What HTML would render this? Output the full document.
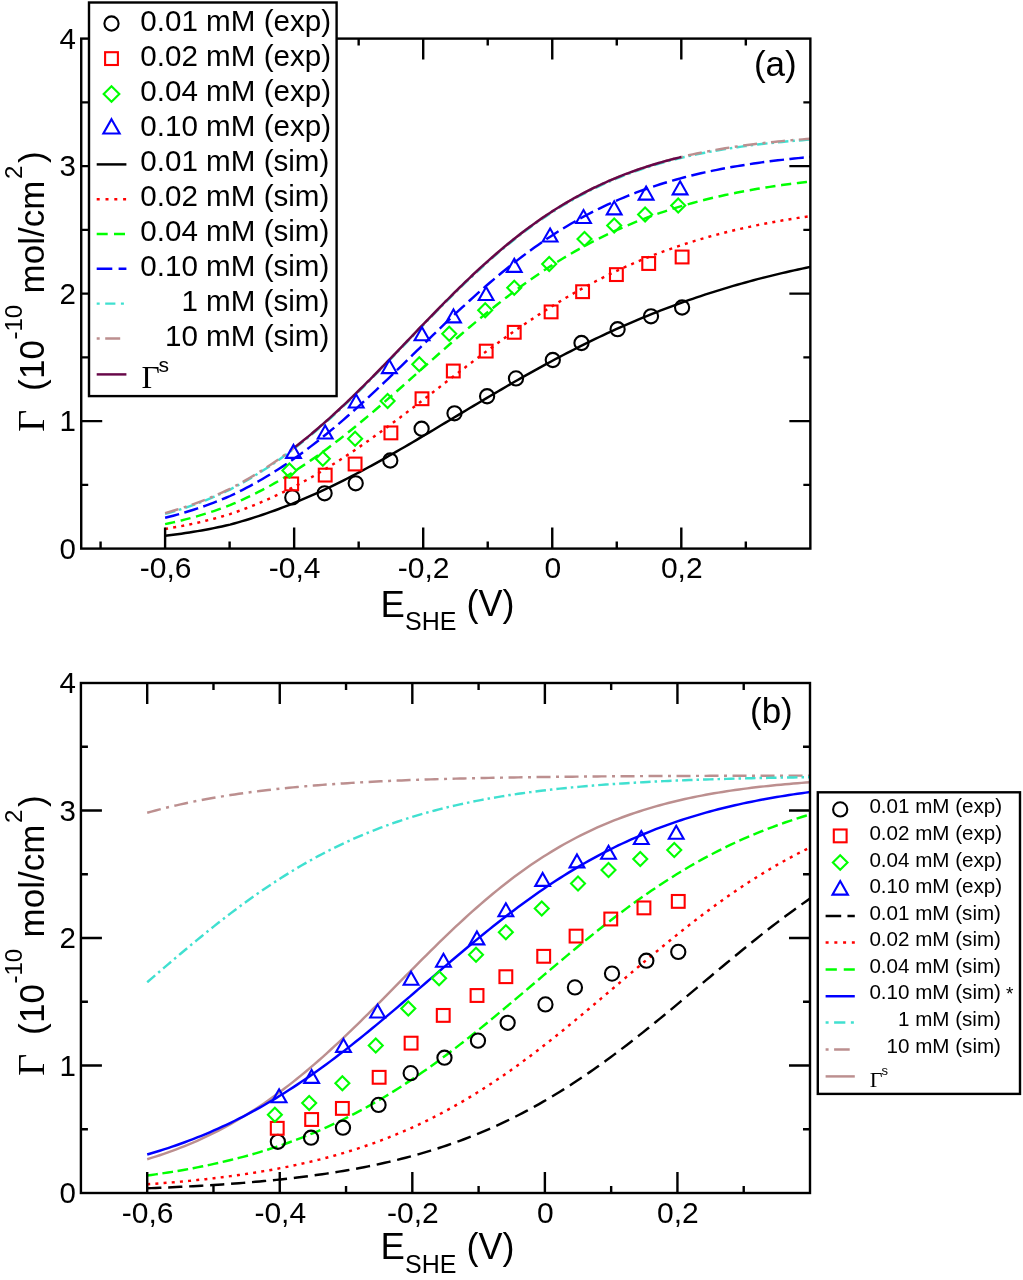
<!DOCTYPE html>
<html><head><meta charset="utf-8"><style>
html,body{margin:0;padding:0;background:#fff;width:1023px;height:1280px;overflow:hidden}
svg{display:block;will-change:transform}
</style></head><body>
<svg width="1023" height="1280" viewBox="0 0 1023 1280" font-family='"Liberation Sans", sans-serif'>
<rect width="1023" height="1280" fill="#fff"/>
<g fill="none">
<path d="M165.10,513.13 L169.16,511.98 L173.22,510.78 L177.27,509.54 L181.33,508.26 L185.39,506.92 L189.45,505.54 L193.51,504.11 L197.57,502.62 L201.62,501.09 L205.68,499.50 L209.74,497.85 L213.80,496.15 L217.86,494.39 L221.91,492.58 L225.97,490.71 L230.03,488.76 L234.09,486.64 L238.15,484.46 L242.21,482.21 L246.26,479.90 L250.32,477.53 L254.38,475.09 L258.44,472.59 L262.50,470.02 L266.55,467.39 L270.61,464.69 L274.67,461.93 L278.73,459.09 L282.79,456.20 L286.85,453.23 L290.90,450.20 L294.96,447.11 L299.02,443.95 L303.08,440.72 L307.14,437.43 L311.19,434.08 L315.25,430.67 L319.31,427.19 L323.37,423.66 L327.43,420.07 L331.49,416.42 L335.54,412.72 L339.60,408.97 L343.66,405.17 L347.72,401.31 L351.78,397.42 L355.83,393.47 L359.89,389.49 L363.95,385.47 L368.01,381.42 L372.07,377.33 L376.13,373.21 L380.18,369.07 L384.24,364.90 L388.30,360.72 L392.36,356.51 L396.42,352.30 L400.47,348.07 L404.53,343.84 L408.59,339.61 L412.65,335.37 L416.71,331.14 L420.77,326.92 L424.82,322.71 L428.88,318.52 L432.94,314.34 L437.00,310.18 L441.06,306.05 L445.11,301.94 L449.17,297.87 L453.23,293.83 L457.29,289.82 L461.35,285.86 L465.41,281.93 L469.46,278.05 L473.52,274.22 L477.58,270.44 L481.64,266.71 L485.70,263.03 L489.75,259.40 L493.81,255.83 L497.87,252.32 L501.93,248.87 L505.99,245.48 L510.04,242.16 L514.10,238.89 L518.16,235.69 L522.22,232.55 L526.28,229.48 L530.34,226.47 L534.39,223.53 L538.45,220.66 L542.51,217.85 L546.57,215.10 L550.63,212.42 L554.68,209.81 L558.74,207.27 L562.80,204.78 L566.86,202.37 L570.92,200.01 L574.98,197.72 L579.03,195.49 L583.09,193.33 L587.15,191.22 L591.21,189.17 L595.27,187.19 L599.32,185.26 L603.38,183.39 L607.44,181.57 L611.50,179.81 L615.56,178.10 L619.62,176.45 L623.67,174.85 L627.73,173.29 L631.79,171.79 L635.85,170.34 L639.91,168.93 L643.96,167.57 L648.02,166.25 L652.08,164.98 L656.14,163.75 L660.20,162.56 L664.26,161.41 L668.31,160.30 L672.37,159.23 L676.43,158.19 L680.49,157.19 L684.55,156.23 L688.60,155.30 L692.66,154.40 L696.72,153.54 L700.78,152.70 L704.84,151.90 L708.90,151.12 L712.95,150.37 L717.01,149.65 L721.07,148.95 L725.13,148.28 L729.19,147.64 L733.24,147.01 L737.30,146.41 L741.36,145.84 L745.42,145.28 L749.48,144.75 L753.54,144.23 L757.59,143.73 L761.65,143.26 L765.71,142.80 L769.77,142.35 L773.83,141.93 L777.88,141.52 L781.94,141.12 L786.00,140.74 L790.06,140.38 L794.12,140.03 L798.18,139.69 L802.23,139.36 L806.29,139.05 L810.35,138.75" stroke="#40e0d0" stroke-width="2.45" stroke-dasharray="10.5,4,2.5,4" transform="translate(0,0.8)"/>
<path d="M165.10,513.13 L169.16,511.98 L173.22,510.78 L177.27,509.54 L181.33,508.26 L185.39,506.92 L189.45,505.54 L193.51,504.11 L197.57,502.62 L201.62,501.09 L205.68,499.50 L209.74,497.85 L213.80,496.15 L217.86,494.39 L221.91,492.58 L225.97,490.71 L230.03,488.76 L234.09,486.64 L238.15,484.46 L242.21,482.21 L246.26,479.90 L250.32,477.53 L254.38,475.09 L258.44,472.59 L262.50,470.02 L266.55,467.39 L270.61,464.69 L274.67,461.93 L278.73,459.09 L282.79,456.20 L286.85,453.23 L290.90,450.20 L294.96,447.11 L299.02,443.95 L303.08,440.72 L307.14,437.43 L311.19,434.08 L315.25,430.67 L319.31,427.19 L323.37,423.66 L327.43,420.07 L331.49,416.42 L335.54,412.72 L339.60,408.97 L343.66,405.17 L347.72,401.31 L351.78,397.42 L355.83,393.47 L359.89,389.49 L363.95,385.47 L368.01,381.42 L372.07,377.33 L376.13,373.21 L380.18,369.07 L384.24,364.90 L388.30,360.72 L392.36,356.51 L396.42,352.30 L400.47,348.07 L404.53,343.84 L408.59,339.61 L412.65,335.37 L416.71,331.14 L420.77,326.92 L424.82,322.71 L428.88,318.52 L432.94,314.34 L437.00,310.18 L441.06,306.05 L445.11,301.94 L449.17,297.87 L453.23,293.83 L457.29,289.82 L461.35,285.86 L465.41,281.93 L469.46,278.05 L473.52,274.22 L477.58,270.44 L481.64,266.71 L485.70,263.03 L489.75,259.40 L493.81,255.83 L497.87,252.32 L501.93,248.87 L505.99,245.48 L510.04,242.16 L514.10,238.89 L518.16,235.69 L522.22,232.55 L526.28,229.48 L530.34,226.47 L534.39,223.53 L538.45,220.66 L542.51,217.85 L546.57,215.10 L550.63,212.42 L554.68,209.81 L558.74,207.27 L562.80,204.78 L566.86,202.37 L570.92,200.01 L574.98,197.72 L579.03,195.49 L583.09,193.33 L587.15,191.22 L591.21,189.17 L595.27,187.19 L599.32,185.26 L603.38,183.39 L607.44,181.57 L611.50,179.81 L615.56,178.10 L619.62,176.45 L623.67,174.85 L627.73,173.29 L631.79,171.79 L635.85,170.34 L639.91,168.93 L643.96,167.57 L648.02,166.25 L652.08,164.98 L656.14,163.75 L660.20,162.56 L664.26,161.41 L668.31,160.30 L672.37,159.23 L676.43,158.19 L680.49,157.19 L684.55,156.23 L688.60,155.30 L692.66,154.40 L696.72,153.54 L700.78,152.70 L704.84,151.90 L708.90,151.12 L712.95,150.37 L717.01,149.65 L721.07,148.95 L725.13,148.28 L729.19,147.64 L733.24,147.01 L737.30,146.41 L741.36,145.84 L745.42,145.28 L749.48,144.75 L753.54,144.23 L757.59,143.73 L761.65,143.26 L765.71,142.80 L769.77,142.35 L773.83,141.93 L777.88,141.52 L781.94,141.12 L786.00,140.74 L790.06,140.38 L794.12,140.03 L798.18,139.69 L802.23,139.36 L806.29,139.05 L810.35,138.75" stroke="#bc8f8f" stroke-width="2.45" stroke-dasharray="14,5.5,3,5.5"/>
<path d="M294.15,447.73 L296.58,445.85 L299.02,443.95 L301.45,442.02 L303.89,440.07 L306.32,438.09 L308.76,436.10 L311.19,434.08 L313.63,432.04 L316.06,429.98 L318.50,427.89 L320.93,425.79 L323.37,423.66 L325.80,421.51 L328.24,419.35 L330.67,417.16 L333.11,414.95 L335.54,412.72 L337.98,410.48 L340.41,408.21 L342.85,405.93 L345.28,403.63 L347.72,401.31 L350.15,398.98 L352.59,396.63 L355.02,394.27 L357.46,391.89 L359.89,389.49 L362.33,387.09 L364.76,384.66 L367.20,382.23 L369.63,379.79 L372.07,377.33 L374.50,374.86 L376.94,372.39 L379.37,369.90 L381.81,367.41 L384.24,364.90 L386.68,362.39 L389.11,359.88 L391.55,357.36 L393.98,354.83 L396.42,352.30 L398.85,349.76 L401.29,347.23 L403.72,344.69 L406.16,342.15 L408.59,339.61 L411.03,337.07 L413.46,334.53 L415.90,331.99 L418.33,329.45 L420.77,326.92 L423.20,324.39 L425.63,321.87 L428.07,319.35 L430.50,316.84 L432.94,314.34 L435.37,311.84 L437.81,309.35 L440.24,306.87 L442.68,304.40 L445.11,301.94 L447.55,299.49 L449.98,297.06 L452.42,294.63 L454.85,292.22 L457.29,289.82 L459.72,287.44 L462.16,285.07 L464.59,282.72 L467.03,280.38 L469.46,278.05 L471.90,275.75 L474.33,273.46 L476.77,271.19 L479.20,268.94 L481.64,266.71 L484.07,264.49 L486.51,262.30 L488.94,260.12 L491.38,257.97 L493.81,255.83 L496.25,253.72 L498.68,251.63 L501.12,249.56 L503.55,247.51 L505.99,245.48 L508.42,243.48 L510.86,241.50 L513.29,239.54 L515.73,237.60 L518.16,235.69 L520.60,233.80 L523.03,231.93 L525.47,230.09 L527.90,228.27 L530.34,226.47 L532.77,224.70 L535.21,222.95 L537.64,221.23 L540.08,219.52 L542.51,217.85 L544.95,216.19 L547.38,214.56 L549.82,212.96 L552.25,211.37 L554.68,209.81 L557.12,208.28 L559.55,206.76 L561.99,205.27 L564.42,203.81 L566.86,202.37 L569.29,200.95 L571.73,199.55 L574.16,198.17 L576.60,196.82 L579.03,195.49 L581.47,194.19 L583.90,192.90 L586.34,191.64 L588.77,190.39 L591.21,189.17 L593.64,187.97 L596.08,186.80 L598.51,185.64 L600.95,184.50 L603.38,183.39 L605.82,182.29 L608.25,181.21 L610.69,180.16 L613.12,179.12 L615.56,178.10 L617.99,177.10 L620.43,176.12 L622.86,175.16 L625.30,174.22 L627.73,173.29 L630.17,172.39 L632.60,171.50 L635.04,170.62 L637.47,169.77 L639.91,168.93 L642.34,168.11 L644.78,167.30 L647.21,166.51 L649.65,165.74 L652.08,164.98 L654.52,164.24 L656.95,163.51 L659.39,162.79 L661.82,162.09 L664.26,161.41 L666.69,160.74 L669.13,160.08 L671.56,159.44 L674.00,158.81 L676.43,158.19 L678.87,157.59 L681.30,157.00" stroke="#670748" stroke-width="2.45"/>
<path d="M165.10,517.78 L169.16,516.76 L173.22,515.70 L177.27,514.60 L181.33,513.46 L185.39,512.28 L189.45,511.04 L193.51,509.77 L197.57,508.44 L201.62,507.07 L205.68,505.64 L209.74,504.17 L213.80,502.65 L217.86,501.07 L221.91,499.44 L225.97,497.75 L230.03,496.00 L234.09,494.07 L238.15,492.09 L242.21,490.05 L246.26,487.95 L250.32,485.80 L254.38,483.58 L258.44,481.30 L262.50,478.96 L266.55,476.56 L270.61,474.10 L274.67,471.58 L278.73,469.00 L282.79,466.35 L286.85,463.65 L290.90,460.88 L294.96,458.05 L299.02,455.16 L303.08,452.21 L307.14,449.20 L311.19,446.13 L315.25,443.00 L319.31,439.82 L323.37,436.58 L327.43,433.28 L331.49,429.93 L335.54,426.54 L339.60,423.09 L343.66,419.59 L347.72,416.04 L351.78,412.46 L355.83,408.82 L359.89,405.15 L363.95,401.44 L368.01,397.70 L372.07,393.92 L376.13,390.11 L380.18,386.28 L384.24,382.42 L388.30,378.53 L392.36,374.63 L396.42,370.71 L400.47,366.78 L404.53,362.84 L408.59,358.88 L412.65,354.93 L416.71,350.97 L420.77,347.02 L424.82,343.07 L428.88,339.13 L432.94,335.19 L437.00,331.28 L441.06,327.37 L445.11,323.49 L449.17,319.63 L453.23,315.79 L457.29,311.98 L461.35,308.20 L465.41,304.46 L469.46,300.75 L473.52,297.07 L477.58,293.43 L481.64,289.84 L485.70,286.29 L489.75,282.78 L493.81,279.32 L497.87,275.90 L501.93,272.54 L505.99,269.23 L510.04,265.97 L514.10,262.76 L518.16,259.60 L522.22,256.51 L526.28,253.46 L530.34,250.48 L534.39,247.55 L538.45,244.68 L542.51,241.86 L546.57,239.11 L550.63,236.41 L554.68,233.77 L558.74,231.19 L562.80,228.67 L566.86,226.20 L570.92,223.80 L574.98,221.45 L579.03,219.16 L583.09,216.92 L587.15,214.74 L591.21,212.62 L595.27,210.55 L599.32,208.54 L603.38,206.58 L607.44,204.67 L611.50,202.81 L615.56,201.01 L619.62,199.25 L623.67,197.55 L627.73,195.89 L631.79,194.28 L635.85,192.72 L639.91,191.20 L643.96,189.73 L648.02,188.30 L652.08,186.92 L656.14,185.57 L660.20,184.27 L664.26,183.01 L668.31,181.79 L672.37,180.60 L676.43,179.46 L680.49,178.35 L684.55,177.27 L688.60,176.23 L692.66,175.22 L696.72,174.25 L700.78,173.31 L704.84,172.39 L708.90,171.51 L712.95,170.66 L717.01,169.83 L721.07,169.03 L725.13,168.26 L729.19,167.52 L733.24,166.80 L737.30,166.10 L741.36,165.43 L745.42,164.78 L749.48,164.16 L753.54,163.55 L757.59,162.97 L761.65,162.40 L765.71,161.86 L769.77,161.33 L773.83,160.82 L777.88,160.33 L781.94,159.86 L786.00,159.40 L790.06,158.96 L794.12,158.54 L798.18,158.13 L802.23,157.73 L806.29,157.35 L810.35,156.98" stroke="#0000ff" stroke-width="2.45" stroke-dasharray="14.5,5.4"/>
<path d="M165.10,524.13 L169.16,523.27 L173.22,522.37 L177.27,521.43 L181.33,520.45 L185.39,519.43 L189.45,518.36 L193.51,517.26 L197.57,516.11 L201.62,514.91 L205.68,513.67 L209.74,512.38 L213.80,511.04 L217.86,509.65 L221.91,508.21 L225.97,506.72 L230.03,505.17 L234.09,503.44 L238.15,501.67 L242.21,499.84 L246.26,497.95 L250.32,496.01 L254.38,494.02 L258.44,491.96 L262.50,489.86 L266.55,487.69 L270.61,485.47 L274.67,483.19 L278.73,480.85 L282.79,478.46 L286.85,476.01 L290.90,473.50 L294.96,470.93 L299.02,468.31 L303.08,465.64 L307.14,462.91 L311.19,460.12 L315.25,457.28 L319.31,454.39 L323.37,451.45 L327.43,448.46 L331.49,445.42 L335.54,442.33 L339.60,439.20 L343.66,436.02 L347.72,432.80 L351.78,429.54 L355.83,426.24 L359.89,422.90 L363.95,419.53 L368.01,416.13 L372.07,412.69 L376.13,409.23 L380.18,405.74 L384.24,402.22 L388.30,398.69 L392.36,395.13 L396.42,391.56 L400.47,387.97 L404.53,384.38 L408.59,380.77 L412.65,377.16 L416.71,373.54 L420.77,369.92 L424.82,366.30 L428.88,362.69 L432.94,359.08 L437.00,355.48 L441.06,351.90 L445.11,348.32 L449.17,344.76 L453.23,341.22 L457.29,337.70 L461.35,334.20 L465.41,330.72 L469.46,327.27 L473.52,323.85 L477.58,320.46 L481.64,317.10 L485.70,313.78 L489.75,310.49 L493.81,307.23 L497.87,304.02 L501.93,300.84 L505.99,297.70 L510.04,294.61 L514.10,291.56 L518.16,288.55 L522.22,285.59 L526.28,282.67 L530.34,279.79 L534.39,276.97 L538.45,274.19 L542.51,271.46 L546.57,268.78 L550.63,266.14 L554.68,263.56 L558.74,261.02 L562.80,258.53 L566.86,256.10 L570.92,253.71 L574.98,251.37 L579.03,249.07 L583.09,246.83 L587.15,244.64 L591.21,242.49 L595.27,240.39 L599.32,238.34 L603.38,236.34 L607.44,234.38 L611.50,232.47 L615.56,230.60 L619.62,228.78 L623.67,227.01 L627.73,225.27 L631.79,223.58 L635.85,221.94 L639.91,220.33 L643.96,218.77 L648.02,217.25 L652.08,215.76 L656.14,214.32 L660.20,212.91 L664.26,211.54 L668.31,210.21 L672.37,208.92 L676.43,207.66 L680.49,206.43 L684.55,205.24 L688.60,204.09 L692.66,202.96 L696.72,201.87 L700.78,200.81 L704.84,199.78 L708.90,198.78 L712.95,197.80 L717.01,196.86 L721.07,195.94 L725.13,195.05 L729.19,194.19 L733.24,193.35 L737.30,192.54 L741.36,191.75 L745.42,190.99 L749.48,190.24 L753.54,189.53 L757.59,188.83 L761.65,188.15 L765.71,187.50 L769.77,186.86 L773.83,186.24 L777.88,185.65 L781.94,185.07 L786.00,184.51 L790.06,183.96 L794.12,183.44 L798.18,182.93 L802.23,182.43 L806.29,181.96 L810.35,181.49" stroke="#00ff00" stroke-width="2.45" stroke-dasharray="10.2,5.7"/>
<path d="M165.10,528.94 L169.16,528.28 L173.22,527.58 L177.27,526.85 L181.33,526.09 L185.39,525.30 L189.45,524.47 L193.51,523.60 L197.57,522.70 L201.62,521.76 L205.68,520.78 L209.74,519.77 L213.80,518.71 L217.86,517.62 L221.91,516.48 L225.97,515.30 L230.03,514.07 L234.09,512.68 L238.15,511.24 L242.21,509.76 L246.26,508.24 L250.32,506.66 L254.38,505.05 L258.44,503.38 L262.50,501.67 L266.55,499.91 L270.61,498.11 L274.67,496.25 L278.73,494.35 L282.79,492.40 L286.85,490.40 L290.90,488.36 L294.96,486.26 L299.02,484.12 L303.08,481.93 L307.14,479.70 L311.19,477.41 L315.25,475.09 L319.31,472.71 L323.37,470.29 L327.43,467.83 L331.49,465.32 L335.54,462.77 L339.60,460.18 L343.66,457.54 L347.72,454.87 L351.78,452.16 L355.83,449.41 L359.89,446.63 L363.95,443.81 L368.01,440.96 L372.07,438.08 L376.13,435.17 L380.18,432.23 L384.24,429.26 L388.30,426.27 L392.36,423.25 L396.42,420.22 L400.47,417.16 L404.53,414.09 L408.59,411.00 L412.65,407.90 L416.71,404.78 L420.77,401.66 L424.82,398.52 L428.88,395.39 L432.94,392.24 L437.00,389.10 L441.06,385.95 L445.11,382.81 L449.17,379.67 L453.23,376.54 L457.29,373.41 L461.35,370.29 L465.41,367.19 L469.46,364.09 L473.52,361.01 L477.58,357.95 L481.64,354.90 L485.70,351.88 L489.75,348.87 L493.81,345.89 L497.87,342.93 L501.93,339.99 L505.99,337.08 L510.04,334.20 L514.10,331.35 L518.16,328.52 L522.22,325.73 L526.28,322.97 L530.34,320.24 L534.39,317.54 L538.45,314.88 L542.51,312.25 L546.57,309.66 L550.63,307.11 L554.68,304.59 L558.74,302.11 L562.80,299.66 L566.86,297.26 L570.92,294.89 L574.98,292.56 L579.03,290.27 L583.09,288.02 L587.15,285.81 L591.21,283.64 L595.27,281.50 L599.32,279.41 L603.38,277.36 L607.44,275.34 L611.50,273.36 L615.56,271.43 L619.62,269.53 L623.67,267.66 L627.73,265.84 L631.79,264.06 L635.85,262.31 L639.91,260.60 L643.96,258.93 L648.02,257.29 L652.08,255.69 L656.14,254.12 L660.20,252.59 L664.26,251.10 L668.31,249.64 L672.37,248.21 L676.43,246.82 L680.49,245.45 L684.55,244.13 L688.60,242.83 L692.66,241.56 L696.72,240.33 L700.78,239.12 L704.84,237.95 L708.90,236.80 L712.95,235.69 L717.01,234.60 L721.07,233.54 L725.13,232.50 L729.19,231.50 L733.24,230.51 L737.30,229.56 L741.36,228.63 L745.42,227.72 L749.48,226.84 L753.54,225.98 L757.59,225.14 L761.65,224.32 L765.71,223.53 L769.77,222.76 L773.83,222.01 L777.88,221.28 L781.94,220.57 L786.00,219.88 L790.06,219.20 L794.12,218.55 L798.18,217.91 L802.23,217.30 L806.29,216.69 L810.35,216.11" stroke="#ff0000" stroke-width="2.45" stroke-dasharray="3,5.2"/>
<path d="M165.10,535.73 L169.16,535.26 L173.22,534.76 L177.27,534.23 L181.33,533.67 L185.39,533.08 L189.45,532.47 L193.51,531.83 L197.57,531.15 L201.62,530.44 L205.68,529.71 L209.74,528.94 L213.80,528.13 L217.86,527.30 L221.91,526.43 L225.97,525.53 L230.03,524.58 L234.09,523.47 L238.15,522.34 L242.21,521.17 L246.26,519.96 L250.32,518.71 L254.38,517.43 L258.44,516.12 L262.50,514.76 L266.55,513.37 L270.61,511.95 L274.67,510.48 L278.73,508.99 L282.79,507.45 L286.85,505.88 L290.90,504.27 L294.96,502.63 L299.02,500.95 L303.08,499.24 L307.14,497.49 L311.19,495.71 L315.25,493.89 L319.31,492.04 L323.37,490.16 L327.43,488.25 L331.49,486.31 L335.54,484.33 L339.60,482.33 L343.66,480.30 L347.72,478.24 L351.78,476.15 L355.83,474.03 L359.89,471.89 L363.95,469.73 L368.01,467.54 L372.07,465.33 L376.13,463.10 L380.18,460.84 L384.24,458.57 L388.30,456.28 L392.36,453.97 L396.42,451.65 L400.47,449.31 L404.53,446.95 L408.59,444.59 L412.65,442.21 L416.71,439.82 L420.77,437.42 L424.82,435.01 L428.88,432.60 L432.94,430.18 L437.00,427.75 L441.06,425.32 L445.11,422.88 L449.17,420.45 L453.23,418.01 L457.29,415.58 L461.35,413.14 L465.41,410.71 L469.46,408.28 L473.52,405.85 L477.58,403.43 L481.64,401.02 L485.70,398.61 L489.75,396.21 L493.81,393.82 L497.87,391.44 L501.93,389.07 L505.99,386.71 L510.04,384.37 L514.10,382.03 L518.16,379.71 L522.22,377.41 L526.28,375.12 L530.34,372.84 L534.39,370.58 L538.45,368.34 L542.51,366.11 L546.57,363.90 L550.63,361.71 L554.68,359.54 L558.74,357.39 L562.80,355.26 L566.86,353.14 L570.92,351.05 L574.98,348.98 L579.03,346.93 L583.09,344.90 L587.15,342.90 L591.21,340.91 L595.27,338.95 L599.32,337.01 L603.38,335.09 L607.44,333.20 L611.50,331.33 L615.56,329.48 L619.62,327.65 L623.67,325.85 L627.73,324.07 L631.79,322.32 L635.85,320.58 L639.91,318.88 L643.96,317.19 L648.02,315.53 L652.08,313.89 L656.14,312.28 L660.20,310.69 L664.26,309.12 L668.31,307.57 L672.37,306.05 L676.43,304.55 L680.49,303.08 L684.55,301.62 L688.60,300.19 L692.66,298.79 L696.72,297.40 L700.78,296.04 L704.84,294.70 L708.90,293.38 L712.95,292.08 L717.01,290.81 L721.07,289.55 L725.13,288.32 L729.19,287.11 L733.24,285.91 L737.30,284.74 L741.36,283.59 L745.42,282.46 L749.48,281.35 L753.54,280.26 L757.59,279.19 L761.65,278.14 L765.71,277.10 L769.77,276.09 L773.83,275.09 L777.88,274.11 L781.94,273.15 L786.00,272.21 L790.06,271.29 L794.12,270.38 L798.18,269.49 L802.23,268.61 L806.29,267.75 L810.35,266.91" stroke="#000000" stroke-width="2.45"/>
</g>
<circle cx="292.30" cy="497.40" r="7.1" fill="none" stroke="#000000" stroke-width="2.1"/>
<circle cx="324.60" cy="493.30" r="7.1" fill="none" stroke="#000000" stroke-width="2.1"/>
<circle cx="355.70" cy="483.30" r="7.1" fill="none" stroke="#000000" stroke-width="2.1"/>
<circle cx="390.30" cy="460.50" r="7.1" fill="none" stroke="#000000" stroke-width="2.1"/>
<circle cx="421.60" cy="428.75" r="7.1" fill="none" stroke="#000000" stroke-width="2.1"/>
<circle cx="454.50" cy="413.30" r="7.1" fill="none" stroke="#000000" stroke-width="2.1"/>
<circle cx="487.10" cy="396.25" r="7.1" fill="none" stroke="#000000" stroke-width="2.1"/>
<circle cx="516.00" cy="378.40" r="7.1" fill="none" stroke="#000000" stroke-width="2.1"/>
<circle cx="552.80" cy="360.00" r="7.1" fill="none" stroke="#000000" stroke-width="2.1"/>
<circle cx="581.50" cy="343.00" r="7.1" fill="none" stroke="#000000" stroke-width="2.1"/>
<circle cx="617.60" cy="329.20" r="7.1" fill="none" stroke="#000000" stroke-width="2.1"/>
<circle cx="651.00" cy="316.30" r="7.1" fill="none" stroke="#000000" stroke-width="2.1"/>
<circle cx="682.10" cy="307.50" r="7.1" fill="none" stroke="#000000" stroke-width="2.1"/>
<rect x="285.30" y="477.50" width="12.8" height="12.8" fill="none" stroke="#ff0000" stroke-width="2.1"/>
<rect x="318.80" y="468.70" width="12.8" height="12.8" fill="none" stroke="#ff0000" stroke-width="2.1"/>
<rect x="348.70" y="457.60" width="12.8" height="12.8" fill="none" stroke="#ff0000" stroke-width="2.1"/>
<rect x="384.50" y="426.50" width="12.8" height="12.8" fill="none" stroke="#ff0000" stroke-width="2.1"/>
<rect x="415.60" y="392.35" width="12.8" height="12.8" fill="none" stroke="#ff0000" stroke-width="2.1"/>
<rect x="446.90" y="364.60" width="12.8" height="12.8" fill="none" stroke="#ff0000" stroke-width="2.1"/>
<rect x="479.80" y="344.70" width="12.8" height="12.8" fill="none" stroke="#ff0000" stroke-width="2.1"/>
<rect x="507.85" y="325.90" width="12.8" height="12.8" fill="none" stroke="#ff0000" stroke-width="2.1"/>
<rect x="544.70" y="305.50" width="12.8" height="12.8" fill="none" stroke="#ff0000" stroke-width="2.1"/>
<rect x="576.20" y="285.30" width="12.8" height="12.8" fill="none" stroke="#ff0000" stroke-width="2.1"/>
<rect x="610.00" y="268.20" width="12.8" height="12.8" fill="none" stroke="#ff0000" stroke-width="2.1"/>
<rect x="642.30" y="257.10" width="12.8" height="12.8" fill="none" stroke="#ff0000" stroke-width="2.1"/>
<rect x="675.70" y="250.60" width="12.8" height="12.8" fill="none" stroke="#ff0000" stroke-width="2.1"/>
<path d="M289.40,463.40L296.40,470.40L289.40,477.40L282.40,470.40Z" fill="none" stroke="#00ff00" stroke-width="2.1"/>
<path d="M322.80,451.70L329.80,458.70L322.80,465.70L315.80,458.70Z" fill="none" stroke="#00ff00" stroke-width="2.1"/>
<path d="M355.10,431.80L362.10,438.80L355.10,445.80L348.10,438.80Z" fill="none" stroke="#00ff00" stroke-width="2.1"/>
<path d="M387.60,394.00L394.60,401.00L387.60,408.00L380.60,401.00Z" fill="none" stroke="#00ff00" stroke-width="2.1"/>
<path d="M419.30,357.20L426.30,364.20L419.30,371.20L412.30,364.20Z" fill="none" stroke="#00ff00" stroke-width="2.1"/>
<path d="M449.25,326.75L456.25,333.75L449.25,340.75L442.25,333.75Z" fill="none" stroke="#00ff00" stroke-width="2.1"/>
<path d="M485.20,303.30L492.20,310.30L485.20,317.30L478.20,310.30Z" fill="none" stroke="#00ff00" stroke-width="2.1"/>
<path d="M514.25,280.80L521.25,287.80L514.25,294.80L507.25,287.80Z" fill="none" stroke="#00ff00" stroke-width="2.1"/>
<path d="M549.20,257.10L556.20,264.10L549.20,271.10L542.20,264.10Z" fill="none" stroke="#00ff00" stroke-width="2.1"/>
<path d="M584.50,232.00L591.50,239.00L584.50,246.00L577.50,239.00Z" fill="none" stroke="#00ff00" stroke-width="2.1"/>
<path d="M614.20,218.60L621.20,225.60L614.20,232.60L607.20,225.60Z" fill="none" stroke="#00ff00" stroke-width="2.1"/>
<path d="M645.10,207.50L652.10,214.50L645.10,221.50L638.10,214.50Z" fill="none" stroke="#00ff00" stroke-width="2.1"/>
<path d="M678.20,198.60L685.20,205.60L678.20,212.60L671.20,205.60Z" fill="none" stroke="#00ff00" stroke-width="2.1"/>
<path d="M293.50,444.90L300.90,457.90L286.10,457.90Z" fill="none" stroke="#0000ff" stroke-width="2.1" stroke-linejoin="miter"/>
<path d="M325.20,425.50L332.60,438.50L317.80,438.50Z" fill="none" stroke="#0000ff" stroke-width="2.1" stroke-linejoin="miter"/>
<path d="M356.20,394.50L363.60,407.50L348.80,407.50Z" fill="none" stroke="#0000ff" stroke-width="2.1" stroke-linejoin="miter"/>
<path d="M389.40,360.10L396.80,373.10L382.00,373.10Z" fill="none" stroke="#0000ff" stroke-width="2.1" stroke-linejoin="miter"/>
<path d="M422.00,327.30L429.40,340.30L414.60,340.30Z" fill="none" stroke="#0000ff" stroke-width="2.1" stroke-linejoin="miter"/>
<path d="M453.50,309.40L460.90,322.40L446.10,322.40Z" fill="none" stroke="#0000ff" stroke-width="2.1" stroke-linejoin="miter"/>
<path d="M486.10,287.00L493.50,300.00L478.70,300.00Z" fill="none" stroke="#0000ff" stroke-width="2.1" stroke-linejoin="miter"/>
<path d="M514.25,258.85L521.65,271.85L506.85,271.85Z" fill="none" stroke="#0000ff" stroke-width="2.1" stroke-linejoin="miter"/>
<path d="M550.10,228.50L557.50,241.50L542.70,241.50Z" fill="none" stroke="#0000ff" stroke-width="2.1" stroke-linejoin="miter"/>
<path d="M583.50,210.00L590.90,223.00L576.10,223.00Z" fill="none" stroke="#0000ff" stroke-width="2.1" stroke-linejoin="miter"/>
<path d="M614.20,201.35L621.60,214.35L606.80,214.35Z" fill="none" stroke="#0000ff" stroke-width="2.1" stroke-linejoin="miter"/>
<path d="M646.10,186.60L653.50,199.60L638.70,199.60Z" fill="none" stroke="#0000ff" stroke-width="2.1" stroke-linejoin="miter"/>
<path d="M680.10,181.35L687.50,194.35L672.70,194.35Z" fill="none" stroke="#0000ff" stroke-width="2.1" stroke-linejoin="miter"/>
<rect x="81.22" y="38.60" width="729.13" height="510.00" fill="none" stroke="#000" stroke-width="2.4"/>
<path d="M100.58,548.60V541.60M100.58,38.60V45.60M165.10,548.60V527.60M165.10,38.60V59.60M229.62,548.60V541.60M229.62,38.60V45.60M294.15,548.60V527.60M294.15,38.60V59.60M358.67,548.60V541.60M358.67,38.60V45.60M423.20,548.60V527.60M423.20,38.60V59.60M487.73,548.60V541.60M487.73,38.60V45.60M552.25,548.60V527.60M552.25,38.60V59.60M616.77,548.60V541.60M616.77,38.60V45.60M681.30,548.60V527.60M681.30,38.60V59.60M745.82,548.60V541.60M745.82,38.60V45.60M81.22,484.85H88.22M810.35,484.85H803.35M81.22,421.10H102.22M810.35,421.10H789.35M81.22,357.35H88.22M810.35,357.35H803.35M81.22,293.60H102.22M810.35,293.60H789.35M81.22,229.85H88.22M810.35,229.85H803.35M81.22,166.10H102.22M810.35,166.10H789.35M81.22,102.35H88.22M810.35,102.35H803.35" fill="none" stroke="#000" stroke-width="2.4"/>
<text x="165.60" y="578.30" text-anchor="middle" font-size="30" fill="#000">-0,6</text>
<text x="294.65" y="578.30" text-anchor="middle" font-size="30" fill="#000">-0,4</text>
<text x="423.70" y="578.30" text-anchor="middle" font-size="30" fill="#000">-0,2</text>
<text x="552.75" y="578.30" text-anchor="middle" font-size="30" fill="#000">0</text>
<text x="681.80" y="578.30" text-anchor="middle" font-size="30" fill="#000">0,2</text>
<text x="75.80" y="558.80" text-anchor="end" font-size="29.5" fill="#000">0</text>
<text x="75.80" y="431.30" text-anchor="end" font-size="29.5" fill="#000">1</text>
<text x="75.80" y="303.80" text-anchor="end" font-size="29.5" fill="#000">2</text>
<text x="75.80" y="176.30" text-anchor="end" font-size="29.5" fill="#000">3</text>
<text x="75.80" y="48.80" text-anchor="end" font-size="29.5" fill="#000">4</text>
<text x="380.5" y="616.50" font-size="36.5" fill="#000">E</text>
<text x="405" y="630.20" font-size="25" fill="#000">SHE</text>
<text x="466.5" y="616.30" font-size="36" fill="#000">(V)</text>
<g transform="translate(43.6,440.00) rotate(-90)" fill="#000"><text x="8.2" y="0" font-size="38" font-family='"Liberation Serif", serif'>Γ</text><text x="49.1" y="0" font-size="35">(</text><text x="61.1" y="0" font-size="35">10</text><text x="100.4" y="-21.5" font-size="24">-10</text><text x="146.6" y="0" font-size="35">mol/cm</text><text x="260.9" y="-21.4" font-size="24">2</text><text x="277" y="0" font-size="35">)</text></g>
<text x="753.9" y="76.3" font-size="35" fill="#000">(a)</text>
<rect x="89" y="2.5" width="247.6" height="393.6" fill="#fff" stroke="#000" stroke-width="2.4"/>
<text x="140.30" y="31.20" font-size="29.6" fill="#000">0.01 mM (exp)</text>
<text x="140.30" y="66.16" font-size="29.6" fill="#000">0.02 mM (exp)</text>
<text x="140.30" y="101.12" font-size="29.6" fill="#000">0.04 mM (exp)</text>
<text x="140.30" y="136.08" font-size="29.6" fill="#000">0.10 mM (exp)</text>
<text x="140.30" y="171.04" font-size="29.6" fill="#000">0.01 mM (sim)</text>
<text x="140.30" y="206.00" font-size="29.6" fill="#000">0.02 mM (sim)</text>
<text x="140.30" y="240.96" font-size="29.6" fill="#000">0.04 mM (sim)</text>
<text x="140.30" y="275.92" font-size="29.6" fill="#000">0.10 mM (sim)</text>
<text x="181.41" y="310.88" font-size="29.6" fill="#000">1 mM (sim)</text>
<text x="164.97" y="345.84" font-size="29.6" fill="#000">10 mM (sim)</text>
<circle cx="111.50" cy="23.50" r="7.1" fill="none" stroke="#000000" stroke-width="2.1"/>
<rect x="105.10" y="52.20" width="12.8" height="12.8" fill="none" stroke="#ff0000" stroke-width="2.1"/>
<path d="M111.50,86.16L119.34,94.00L111.50,101.84L103.66,94.00Z" fill="none" stroke="#00ff00" stroke-width="2.1"/>
<path d="M111.50,119.16L119.64,133.46L103.36,133.46Z" fill="none" stroke="#0000ff" stroke-width="2.1" stroke-linejoin="miter"/>
<path d="M96.7,164.40H126.4" stroke="#000000" stroke-width="2.45"/>
<path d="M96.7,199.20H126.4" stroke="#ff0000" stroke-width="2.45" stroke-dasharray="3,5.8"/>
<path d="M96.7,234.00H126.4" stroke="#00ff00" stroke-width="2.45" stroke-dasharray="11,6.3"/>
<path d="M96.7,268.80H126.4" stroke="#0000ff" stroke-width="2.45" stroke-dasharray="15.6,6.3"/>
<path d="M96.7,303.60H126.4" stroke="#40e0d0" stroke-width="2.45" stroke-dasharray="3,5.5,10.2,5.5,3"/>
<path d="M96.7,338.40H126.4" stroke="#bc8f8f" stroke-width="2.45" stroke-dasharray="3,5.5,15,20"/>
<path d="M96.7,374.40H126.4" stroke="#670748" stroke-width="2.45"/>
<text x="141.5" y="388.4" font-size="31.6" font-family='"Liberation Serif", serif' fill="#000">Γ</text><text x="158.5" y="371.7" font-size="21" fill="#000">s</text>
<g fill="none">
<path d="M147.20,812.72 L151.37,811.57 L155.54,810.45 L159.71,809.36 L163.87,808.31 L168.04,807.28 L172.21,806.29 L176.38,805.32 L180.55,804.38 L184.72,803.47 L188.89,802.58 L193.05,801.72 L197.22,800.89 L201.39,800.08 L205.56,799.29 L209.73,798.53 L213.90,797.79 L218.07,797.08 L222.23,796.38 L226.40,795.71 L230.57,795.06 L234.74,794.42 L238.91,793.81 L243.08,793.22 L247.25,792.64 L251.41,792.08 L255.58,791.54 L259.75,791.02 L263.92,790.51 L268.09,790.02 L272.26,789.54 L276.43,789.08 L280.59,788.64 L284.76,788.20 L288.93,787.79 L293.10,787.38 L297.27,786.99 L301.44,786.61 L305.61,786.24 L309.77,785.88 L313.94,785.54 L318.11,785.21 L322.28,784.88 L326.45,784.57 L330.62,784.27 L334.78,783.98 L338.95,783.70 L343.12,783.42 L347.29,783.16 L351.46,782.90 L355.63,782.65 L359.80,782.41 L363.96,782.18 L368.13,781.96 L372.30,781.74 L376.47,781.53 L380.64,781.33 L384.81,781.13 L388.98,780.94 L393.14,780.76 L397.31,780.58 L401.48,780.41 L405.65,780.24 L409.82,780.08 L413.99,779.93 L418.16,779.78 L422.32,779.63 L426.49,779.49 L430.66,779.36 L434.83,779.22 L439.00,779.10 L443.17,778.97 L447.34,778.86 L451.50,778.74 L455.67,778.63 L459.84,778.52 L464.01,778.42 L468.18,778.32 L472.35,778.22 L476.52,778.13 L480.68,778.04 L484.85,777.95 L489.02,777.87 L493.19,777.79 L497.36,777.71 L501.53,777.63 L505.70,777.56 L509.86,777.49 L514.03,777.42 L518.20,777.35 L522.37,777.29 L526.54,777.22 L530.71,777.16 L534.88,777.11 L539.04,777.05 L543.21,777.00 L547.38,776.94 L551.55,776.89 L555.72,776.84 L559.89,776.80 L564.06,776.75 L568.22,776.71 L572.39,776.66 L576.56,776.62 L580.73,776.58 L584.90,776.54 L589.07,776.51 L593.24,776.47 L597.40,776.44 L601.57,776.40 L605.74,776.37 L609.91,776.34 L614.08,776.31 L618.25,776.28 L622.42,776.25 L626.58,776.22 L630.75,776.20 L634.92,776.17 L639.09,776.15 L643.26,776.12 L647.43,776.10 L651.59,776.08 L655.76,776.05 L659.93,776.03 L664.10,776.01 L668.27,775.99 L672.44,775.98 L676.61,775.96 L680.77,775.94 L684.94,775.92 L689.11,775.91 L693.28,775.89 L697.45,775.88 L701.62,775.86 L705.79,775.85 L709.95,775.83 L714.12,775.82 L718.29,775.81 L722.46,775.79 L726.63,775.78 L730.80,775.77 L734.97,775.76 L739.13,775.75 L743.30,775.74 L747.47,775.73 L751.64,775.72 L755.81,775.71 L759.98,775.70 L764.15,775.69 L768.31,775.68 L772.48,775.67 L776.65,775.67 L780.82,775.66 L784.99,775.65 L789.16,775.64 L793.33,775.64 L797.49,775.63 L801.66,775.62 L805.83,775.62 L810.00,775.61" stroke="#bc8f8f" stroke-width="2.45" stroke-dasharray="14,5.5,3,5.5"/>
<path d="M147.20,982.22 L151.37,978.64 L155.54,975.05 L159.71,971.48 L163.87,967.90 L168.04,964.34 L172.21,960.80 L176.38,957.26 L180.55,953.74 L184.72,950.24 L188.89,946.76 L193.05,943.29 L197.22,939.86 L201.39,936.44 L205.56,933.06 L209.73,929.70 L213.90,926.37 L218.07,923.08 L222.23,919.81 L226.40,916.58 L230.57,913.39 L234.74,910.23 L238.91,907.12 L243.08,904.04 L247.25,901.00 L251.41,898.00 L255.58,895.05 L259.75,892.14 L263.92,889.27 L268.09,886.45 L272.26,883.67 L276.43,880.93 L280.59,878.25 L284.76,875.61 L288.93,873.01 L293.10,870.47 L297.27,867.97 L301.44,865.52 L305.61,863.11 L309.77,860.76 L313.94,858.45 L318.11,856.19 L322.28,853.97 L326.45,851.80 L330.62,849.68 L334.78,847.61 L338.95,845.58 L343.12,843.59 L347.29,841.66 L351.46,839.76 L355.63,837.92 L359.80,836.11 L363.96,834.35 L368.13,832.63 L372.30,830.96 L376.47,829.33 L380.64,827.73 L384.81,826.18 L388.98,824.67 L393.14,823.20 L397.31,821.76 L401.48,820.36 L405.65,819.01 L409.82,817.68 L413.99,816.39 L418.16,815.14 L422.32,813.92 L426.49,812.74 L430.66,811.59 L434.83,810.47 L439.00,809.38 L443.17,808.33 L447.34,807.30 L451.50,806.30 L455.67,805.34 L459.84,804.40 L464.01,803.48 L468.18,802.60 L472.35,801.74 L476.52,800.90 L480.68,800.09 L484.85,799.31 L489.02,798.55 L493.19,797.81 L497.36,797.09 L501.53,796.40 L505.70,795.72 L509.86,795.07 L514.03,794.44 L518.20,793.82 L522.37,793.23 L526.54,792.65 L530.71,792.09 L534.88,791.55 L539.04,791.03 L543.21,790.52 L547.38,790.03 L551.55,789.55 L555.72,789.09 L559.89,788.64 L564.06,788.21 L568.22,787.79 L572.39,787.39 L576.56,787.00 L580.73,786.62 L584.90,786.25 L589.07,785.89 L593.24,785.55 L597.40,785.21 L601.57,784.89 L605.74,784.58 L609.91,784.28 L614.08,783.98 L618.25,783.70 L622.42,783.43 L626.58,783.16 L630.75,782.91 L634.92,782.66 L639.09,782.42 L643.26,782.19 L647.43,781.96 L651.59,781.74 L655.76,781.53 L659.93,781.33 L664.10,781.13 L668.27,780.94 L672.44,780.76 L676.61,780.58 L680.77,780.41 L684.94,780.25 L689.11,780.08 L693.28,779.93 L697.45,779.78 L701.62,779.63 L705.79,779.49 L709.95,779.36 L714.12,779.23 L718.29,779.10 L722.46,778.98 L726.63,778.86 L730.80,778.74 L734.97,778.63 L739.13,778.53 L743.30,778.42 L747.47,778.32 L751.64,778.23 L755.81,778.13 L759.98,778.04 L764.15,777.95 L768.31,777.87 L772.48,777.79 L776.65,777.71 L780.82,777.63 L784.99,777.56 L789.16,777.49 L793.33,777.42 L797.49,777.35 L801.66,777.29 L805.83,777.23 L810.00,777.17" stroke="#40e0d0" stroke-width="2.45" stroke-dasharray="10.5,4,2.5,4"/>
<path d="M147.20,1159.22 L151.37,1157.95 L155.54,1156.63 L159.71,1155.26 L163.87,1153.85 L168.04,1152.39 L172.21,1150.88 L176.38,1149.32 L180.55,1147.72 L184.72,1146.06 L188.89,1144.35 L193.05,1142.58 L197.22,1140.76 L201.39,1138.88 L205.56,1136.95 L209.73,1134.95 L213.90,1132.90 L218.07,1130.79 L222.23,1128.62 L226.40,1126.38 L230.57,1124.09 L234.74,1121.73 L238.91,1119.30 L243.08,1116.82 L247.25,1114.26 L251.41,1111.65 L255.58,1108.96 L259.75,1106.21 L263.92,1103.40 L268.09,1100.52 L272.26,1097.57 L276.43,1094.56 L280.59,1091.48 L284.76,1088.34 L288.93,1085.14 L293.10,1081.87 L297.27,1078.54 L301.44,1075.14 L305.61,1071.69 L309.77,1068.18 L313.94,1064.61 L318.11,1060.98 L322.28,1057.30 L326.45,1053.56 L330.62,1049.78 L334.78,1045.95 L338.95,1042.07 L343.12,1038.14 L347.29,1034.18 L351.46,1030.18 L355.63,1026.14 L359.80,1022.06 L363.96,1017.96 L368.13,1013.83 L372.30,1009.68 L376.47,1005.50 L380.64,1001.31 L384.81,997.10 L388.98,992.89 L393.14,988.66 L397.31,984.43 L401.48,980.21 L405.65,975.98 L409.82,971.76 L413.99,967.55 L418.16,963.35 L422.32,959.17 L426.49,955.01 L430.66,950.88 L434.83,946.77 L439.00,942.69 L443.17,938.64 L447.34,934.62 L451.50,930.65 L455.67,926.71 L459.84,922.82 L464.01,918.98 L468.18,915.18 L472.35,911.43 L476.52,907.74 L480.68,904.10 L484.85,900.51 L489.02,896.98 L493.19,893.51 L497.36,890.10 L501.53,886.75 L505.70,883.47 L509.86,880.25 L514.03,877.09 L518.20,873.99 L522.37,870.96 L526.54,868.00 L530.71,865.10 L534.88,862.27 L539.04,859.50 L543.21,856.80 L547.38,854.17 L551.55,851.60 L555.72,849.09 L559.89,846.65 L564.06,844.27 L568.22,841.96 L572.39,839.71 L576.56,837.52 L580.73,835.39 L584.90,833.33 L589.07,831.32 L593.24,829.37 L597.40,827.48 L601.57,825.64 L605.74,823.86 L609.91,822.13 L614.08,820.46 L618.25,818.84 L622.42,817.27 L626.58,815.75 L630.75,814.27 L634.92,812.85 L639.09,811.47 L643.26,810.14 L647.43,808.85 L651.59,807.60 L655.76,806.40 L659.93,805.24 L664.10,804.11 L668.27,803.03 L672.44,801.98 L676.61,800.97 L680.77,799.99 L684.94,799.05 L689.11,798.14 L693.28,797.26 L697.45,796.41 L701.62,795.60 L705.79,794.81 L709.95,794.05 L714.12,793.32 L718.29,792.61 L722.46,791.93 L726.63,791.28 L730.80,790.65 L734.97,790.04 L739.13,789.46 L743.30,788.89 L747.47,788.35 L751.64,787.83 L755.81,787.32 L759.98,786.84 L764.15,786.37 L768.31,785.92 L772.48,785.49 L776.65,785.08 L780.82,784.68 L784.99,784.29 L789.16,783.92 L793.33,783.56 L797.49,783.22 L801.66,782.89 L805.83,782.57 L810.00,782.27" stroke="#bc8f8f" stroke-width="2.45"/>
<path d="M147.20,1154.52 L151.37,1153.30 L155.54,1152.04 L159.71,1150.75 L163.87,1149.43 L168.04,1148.07 L172.21,1146.67 L176.38,1145.23 L180.55,1143.75 L184.72,1142.24 L188.89,1140.68 L193.05,1139.09 L197.22,1137.45 L201.39,1135.77 L205.56,1134.05 L209.73,1132.29 L213.90,1130.48 L218.07,1128.63 L222.23,1126.73 L226.40,1124.79 L230.57,1122.80 L234.74,1120.77 L238.91,1118.69 L243.08,1116.56 L247.25,1114.39 L251.41,1112.17 L255.58,1109.90 L259.75,1107.58 L263.92,1105.22 L268.09,1102.81 L272.26,1100.35 L276.43,1097.85 L280.59,1095.30 L284.76,1092.70 L288.93,1090.05 L293.10,1087.36 L297.27,1084.62 L301.44,1081.83 L305.61,1079.00 L309.77,1076.13 L313.94,1073.21 L318.11,1070.25 L322.28,1067.24 L326.45,1064.20 L330.62,1061.11 L334.78,1057.98 L338.95,1054.82 L343.12,1051.62 L347.29,1048.38 L351.46,1045.11 L355.63,1041.81 L359.80,1038.47 L363.96,1035.11 L368.13,1031.71 L372.30,1028.29 L376.47,1024.85 L380.64,1021.38 L384.81,1017.89 L388.98,1014.38 L393.14,1010.85 L397.31,1007.31 L401.48,1003.76 L405.65,1000.19 L409.82,996.61 L413.99,993.03 L418.16,989.44 L422.32,985.85 L426.49,982.25 L430.66,978.66 L434.83,975.07 L439.00,971.49 L443.17,967.91 L447.34,964.35 L451.50,960.79 L455.67,957.25 L459.84,953.73 L464.01,950.22 L468.18,946.73 L472.35,943.27 L476.52,939.83 L480.68,936.41 L484.85,933.02 L489.02,929.66 L493.19,926.32 L497.36,923.02 L501.53,919.76 L505.70,916.52 L509.86,913.33 L514.03,910.17 L518.20,907.04 L522.37,903.96 L526.54,900.92 L530.71,897.92 L534.88,894.96 L539.04,892.05 L543.21,889.18 L547.38,886.35 L551.55,883.57 L555.72,880.84 L559.89,878.15 L564.06,875.51 L568.22,872.91 L572.39,870.37 L576.56,867.87 L580.73,865.41 L584.90,863.01 L589.07,860.65 L593.24,858.34 L597.40,856.08 L601.57,853.86 L605.74,851.70 L609.91,849.58 L614.08,847.50 L618.25,845.47 L622.42,843.49 L626.58,841.55 L630.75,839.66 L634.92,837.81 L639.09,836.01 L643.26,834.25 L647.43,832.53 L651.59,830.86 L655.76,829.23 L659.93,827.64 L664.10,826.08 L668.27,824.57 L672.44,823.10 L676.61,821.67 L680.77,820.27 L684.94,818.92 L689.11,817.60 L693.28,816.31 L697.45,815.06 L701.62,813.84 L705.79,812.66 L709.95,811.51 L714.12,810.39 L718.29,809.31 L722.46,808.25 L726.63,807.23 L730.80,806.24 L734.97,805.27 L739.13,804.33 L743.30,803.42 L747.47,802.54 L751.64,801.68 L755.81,800.85 L759.98,800.04 L764.15,799.25 L768.31,798.49 L772.48,797.76 L776.65,797.04 L780.82,796.35 L784.99,795.68 L789.16,795.03 L793.33,794.40 L797.49,793.78 L801.66,793.19 L805.83,792.62 L810.00,792.06" stroke="#0000ff" stroke-width="2.45"/>
<path d="M147.20,1175.57 L151.37,1174.99 L155.54,1174.40 L159.71,1173.79 L163.87,1173.16 L168.04,1172.51 L172.21,1171.84 L176.38,1171.16 L180.55,1170.44 L184.72,1169.71 L188.89,1168.96 L193.05,1168.18 L197.22,1167.38 L201.39,1166.55 L205.56,1165.70 L209.73,1164.83 L213.90,1163.92 L218.07,1163.00 L222.23,1162.04 L226.40,1161.06 L230.57,1160.04 L234.74,1159.00 L238.91,1157.93 L243.08,1156.83 L247.25,1155.70 L251.41,1154.53 L255.58,1153.33 L259.75,1152.10 L263.92,1150.84 L268.09,1149.54 L272.26,1148.20 L276.43,1146.83 L280.59,1145.43 L284.76,1143.98 L288.93,1142.50 L293.10,1140.98 L297.27,1139.42 L301.44,1137.82 L305.61,1136.18 L309.77,1134.50 L313.94,1132.77 L318.11,1131.01 L322.28,1129.20 L326.45,1127.35 L330.62,1125.46 L334.78,1123.52 L338.95,1121.54 L343.12,1119.51 L347.29,1117.44 L351.46,1115.32 L355.63,1113.16 L359.80,1110.95 L363.96,1108.70 L368.13,1106.40 L372.30,1104.05 L376.47,1101.66 L380.64,1099.23 L384.81,1096.74 L388.98,1094.21 L393.14,1091.64 L397.31,1089.02 L401.48,1086.35 L405.65,1083.64 L409.82,1080.89 L413.99,1078.09 L418.16,1075.25 L422.32,1072.36 L426.49,1069.44 L430.66,1066.47 L434.83,1063.47 L439.00,1060.42 L443.17,1057.34 L447.34,1054.22 L451.50,1051.07 L455.67,1047.88 L459.84,1044.65 L464.01,1041.40 L468.18,1038.11 L472.35,1034.80 L476.52,1031.46 L480.68,1028.09 L484.85,1024.70 L489.02,1021.28 L493.19,1017.85 L497.36,1014.39 L501.53,1010.92 L505.70,1007.43 L509.86,1003.93 L514.03,1000.42 L518.20,996.90 L522.37,993.37 L526.54,989.83 L530.71,986.29 L534.88,982.75 L539.04,979.21 L543.21,975.68 L547.38,972.14 L551.55,968.62 L555.72,965.10 L559.89,961.59 L564.06,958.10 L568.22,954.62 L572.39,951.15 L576.56,947.71 L580.73,944.28 L584.90,940.88 L589.07,937.50 L593.24,934.14 L597.40,930.81 L601.57,927.51 L605.74,924.24 L609.91,921.00 L614.08,917.79 L618.25,914.62 L622.42,911.48 L626.58,908.38 L630.75,905.31 L634.92,902.29 L639.09,899.30 L643.26,896.36 L647.43,893.45 L651.59,890.59 L655.76,887.77 L659.93,884.99 L664.10,882.26 L668.27,879.57 L672.44,876.92 L676.61,874.33 L680.77,871.77 L684.94,869.26 L689.11,866.80 L693.28,864.39 L697.45,862.02 L701.62,859.69 L705.79,857.42 L709.95,855.18 L714.12,853.00 L718.29,850.86 L722.46,848.76 L726.63,846.71 L730.80,844.71 L734.97,842.75 L739.13,840.83 L743.30,838.96 L747.47,837.13 L751.64,835.34 L755.81,833.60 L759.98,831.89 L764.15,830.23 L768.31,828.61 L772.48,827.03 L776.65,825.49 L780.82,823.99 L784.99,822.52 L789.16,821.10 L793.33,819.71 L797.49,818.35 L801.66,817.04 L805.83,815.75 L810.00,814.50" stroke="#00ff00" stroke-width="2.45" stroke-dasharray="10.75,4.6"/>
<path d="M147.20,1184.30 L151.37,1184.01 L155.54,1183.70 L159.71,1183.39 L163.87,1183.06 L168.04,1182.72 L172.21,1182.38 L176.38,1182.02 L180.55,1181.65 L184.72,1181.27 L188.89,1180.87 L193.05,1180.46 L197.22,1180.04 L201.39,1179.61 L205.56,1179.16 L209.73,1178.69 L213.90,1178.21 L218.07,1177.72 L222.23,1177.21 L226.40,1176.68 L230.57,1176.14 L234.74,1175.58 L238.91,1175.00 L243.08,1174.40 L247.25,1173.79 L251.41,1173.15 L255.58,1172.50 L259.75,1171.82 L263.92,1171.13 L268.09,1170.41 L272.26,1169.67 L276.43,1168.91 L280.59,1168.12 L284.76,1167.31 L288.93,1166.48 L293.10,1165.62 L297.27,1164.73 L301.44,1163.82 L305.61,1162.88 L309.77,1161.91 L313.94,1160.92 L318.11,1159.89 L322.28,1158.84 L326.45,1157.75 L330.62,1156.63 L334.78,1155.49 L338.95,1154.31 L343.12,1153.09 L347.29,1151.84 L351.46,1150.56 L355.63,1149.24 L359.80,1147.89 L363.96,1146.50 L368.13,1145.07 L372.30,1143.60 L376.47,1142.10 L380.64,1140.56 L384.81,1138.97 L388.98,1137.35 L393.14,1135.68 L397.31,1133.98 L401.48,1132.23 L405.65,1130.43 L409.82,1128.60 L413.99,1126.72 L418.16,1124.79 L422.32,1122.83 L426.49,1120.81 L430.66,1118.75 L434.83,1116.65 L439.00,1114.50 L443.17,1112.30 L447.34,1110.06 L451.50,1107.77 L455.67,1105.43 L459.84,1103.05 L464.01,1100.62 L468.18,1098.14 L472.35,1095.62 L476.52,1093.05 L480.68,1090.44 L484.85,1087.78 L489.02,1085.07 L493.19,1082.32 L497.36,1079.52 L501.53,1076.69 L505.70,1073.80 L509.86,1070.88 L514.03,1067.91 L518.20,1064.91 L522.37,1061.86 L526.54,1058.77 L530.71,1055.65 L534.88,1052.49 L539.04,1049.29 L543.21,1046.06 L547.38,1042.80 L551.55,1039.51 L555.72,1036.18 L559.89,1032.83 L564.06,1029.45 L568.22,1026.05 L572.39,1022.63 L576.56,1019.18 L580.73,1015.71 L584.90,1012.22 L589.07,1008.72 L593.24,1005.21 L597.40,1001.68 L601.57,998.14 L605.74,994.60 L609.91,991.05 L614.08,987.49 L618.25,983.94 L622.42,980.38 L626.58,976.83 L630.75,973.28 L634.92,969.74 L639.09,966.20 L643.26,962.68 L647.43,959.17 L651.59,955.67 L655.76,952.19 L659.93,948.73 L664.10,945.28 L668.27,941.86 L672.44,938.47 L676.61,935.10 L680.77,931.75 L684.94,928.44 L689.11,925.15 L693.28,921.90 L697.45,918.68 L701.62,915.50 L705.79,912.35 L709.95,909.23 L714.12,906.16 L718.29,903.12 L722.46,900.13 L726.63,897.17 L730.80,894.26 L734.97,891.39 L739.13,888.56 L743.30,885.78 L747.47,883.04 L751.64,880.35 L755.81,877.70 L759.98,875.10 L764.15,872.54 L768.31,870.03 L772.48,867.57 L776.65,865.15 L780.82,862.78 L784.99,860.46 L789.16,858.18 L793.33,855.95 L797.49,853.77 L801.66,851.63 L805.83,849.54 L810.00,847.50" stroke="#ff0000" stroke-width="2.45" stroke-dasharray="3,5.2"/>
<path d="M147.20,1188.27 L151.37,1188.11 L155.54,1187.94 L159.71,1187.77 L163.87,1187.60 L168.04,1187.42 L172.21,1187.23 L176.38,1187.03 L180.55,1186.83 L184.72,1186.62 L188.89,1186.41 L193.05,1186.19 L197.22,1185.96 L201.39,1185.72 L205.56,1185.48 L209.73,1185.22 L213.90,1184.96 L218.07,1184.69 L222.23,1184.41 L226.40,1184.13 L230.57,1183.83 L234.74,1183.52 L238.91,1183.21 L243.08,1182.88 L247.25,1182.54 L251.41,1182.19 L255.58,1181.83 L259.75,1181.46 L263.92,1181.08 L268.09,1180.68 L272.26,1180.27 L276.43,1179.85 L280.59,1179.42 L284.76,1178.97 L288.93,1178.50 L293.10,1178.02 L297.27,1177.53 L301.44,1177.02 L305.61,1176.50 L309.77,1175.96 L313.94,1175.40 L318.11,1174.82 L322.28,1174.23 L326.45,1173.61 L330.62,1172.98 L334.78,1172.33 L338.95,1171.66 L343.12,1170.97 L347.29,1170.26 L351.46,1169.52 L355.63,1168.76 L359.80,1167.98 L363.96,1167.18 L368.13,1166.35 L372.30,1165.50 L376.47,1164.63 L380.64,1163.72 L384.81,1162.79 L388.98,1161.84 L393.14,1160.85 L397.31,1159.84 L401.48,1158.80 L405.65,1157.73 L409.82,1156.63 L413.99,1155.49 L418.16,1154.33 L422.32,1153.13 L426.49,1151.90 L430.66,1150.64 L434.83,1149.34 L439.00,1148.01 L443.17,1146.64 L447.34,1145.24 L451.50,1143.80 L455.67,1142.32 L459.84,1140.80 L464.01,1139.25 L468.18,1137.65 L472.35,1136.02 L476.52,1134.34 L480.68,1132.63 L484.85,1130.87 L489.02,1129.07 L493.19,1127.23 L497.36,1125.34 L501.53,1123.41 L505.70,1121.44 L509.86,1119.43 L514.03,1117.36 L518.20,1115.26 L522.37,1113.11 L526.54,1110.92 L530.71,1108.68 L534.88,1106.39 L539.04,1104.06 L543.21,1101.68 L547.38,1099.26 L551.55,1096.80 L555.72,1094.29 L559.89,1091.73 L564.06,1089.13 L568.22,1086.49 L572.39,1083.80 L576.56,1081.06 L580.73,1078.29 L584.90,1075.47 L589.07,1072.62 L593.24,1069.72 L597.40,1066.78 L601.57,1063.80 L605.74,1060.78 L609.91,1057.73 L614.08,1054.64 L618.25,1051.51 L622.42,1048.36 L626.58,1045.16 L630.75,1041.94 L634.92,1038.69 L639.09,1035.41 L643.26,1032.10 L647.43,1028.77 L651.59,1025.41 L655.76,1022.03 L659.93,1018.63 L664.10,1015.22 L668.27,1011.78 L672.44,1008.33 L676.61,1004.87 L680.77,1001.40 L684.94,997.92 L689.11,994.43 L693.28,990.93 L697.45,987.43 L701.62,983.93 L705.79,980.43 L709.95,976.94 L714.12,973.44 L718.29,969.96 L722.46,966.48 L726.63,963.01 L730.80,959.56 L734.97,956.12 L739.13,952.69 L743.30,949.29 L747.47,945.90 L751.64,942.54 L755.81,939.19 L759.98,935.88 L764.15,932.58 L768.31,929.32 L772.48,926.09 L776.65,922.88 L780.82,919.71 L784.99,916.57 L789.16,913.47 L793.33,910.40 L797.49,907.37 L801.66,904.37 L805.83,901.42 L810.00,898.50" stroke="#000000" stroke-width="2.45" stroke-dasharray="14.2,6.8"/>
</g>
<circle cx="277.86" cy="1141.80" r="7.1" fill="none" stroke="#000000" stroke-width="2.1"/>
<circle cx="311.04" cy="1137.70" r="7.1" fill="none" stroke="#000000" stroke-width="2.1"/>
<circle cx="342.98" cy="1127.70" r="7.1" fill="none" stroke="#000000" stroke-width="2.1"/>
<circle cx="378.53" cy="1104.90" r="7.1" fill="none" stroke="#000000" stroke-width="2.1"/>
<circle cx="410.68" cy="1073.15" r="7.1" fill="none" stroke="#000000" stroke-width="2.1"/>
<circle cx="444.47" cy="1057.70" r="7.1" fill="none" stroke="#000000" stroke-width="2.1"/>
<circle cx="477.96" cy="1040.65" r="7.1" fill="none" stroke="#000000" stroke-width="2.1"/>
<circle cx="507.64" cy="1022.80" r="7.1" fill="none" stroke="#000000" stroke-width="2.1"/>
<circle cx="545.44" cy="1004.40" r="7.1" fill="none" stroke="#000000" stroke-width="2.1"/>
<circle cx="574.93" cy="987.40" r="7.1" fill="none" stroke="#000000" stroke-width="2.1"/>
<circle cx="612.01" cy="973.60" r="7.1" fill="none" stroke="#000000" stroke-width="2.1"/>
<circle cx="646.32" cy="960.70" r="7.1" fill="none" stroke="#000000" stroke-width="2.1"/>
<circle cx="678.26" cy="951.90" r="7.1" fill="none" stroke="#000000" stroke-width="2.1"/>
<rect x="270.84" y="1121.90" width="12.8" height="12.8" fill="none" stroke="#ff0000" stroke-width="2.1"/>
<rect x="305.25" y="1113.10" width="12.8" height="12.8" fill="none" stroke="#ff0000" stroke-width="2.1"/>
<rect x="335.97" y="1102.00" width="12.8" height="12.8" fill="none" stroke="#ff0000" stroke-width="2.1"/>
<rect x="372.74" y="1070.90" width="12.8" height="12.8" fill="none" stroke="#ff0000" stroke-width="2.1"/>
<rect x="404.69" y="1036.75" width="12.8" height="12.8" fill="none" stroke="#ff0000" stroke-width="2.1"/>
<rect x="436.84" y="1009.00" width="12.8" height="12.8" fill="none" stroke="#ff0000" stroke-width="2.1"/>
<rect x="470.63" y="989.10" width="12.8" height="12.8" fill="none" stroke="#ff0000" stroke-width="2.1"/>
<rect x="499.45" y="970.30" width="12.8" height="12.8" fill="none" stroke="#ff0000" stroke-width="2.1"/>
<rect x="537.30" y="949.90" width="12.8" height="12.8" fill="none" stroke="#ff0000" stroke-width="2.1"/>
<rect x="569.66" y="929.70" width="12.8" height="12.8" fill="none" stroke="#ff0000" stroke-width="2.1"/>
<rect x="604.37" y="912.60" width="12.8" height="12.8" fill="none" stroke="#ff0000" stroke-width="2.1"/>
<rect x="637.55" y="901.50" width="12.8" height="12.8" fill="none" stroke="#ff0000" stroke-width="2.1"/>
<rect x="671.86" y="895.00" width="12.8" height="12.8" fill="none" stroke="#ff0000" stroke-width="2.1"/>
<path d="M274.88,1107.80L281.88,1114.80L274.88,1121.80L267.88,1114.80Z" fill="none" stroke="#00ff00" stroke-width="2.1"/>
<path d="M309.19,1096.10L316.19,1103.10L309.19,1110.10L302.19,1103.10Z" fill="none" stroke="#00ff00" stroke-width="2.1"/>
<path d="M342.37,1076.20L349.37,1083.20L342.37,1090.20L335.37,1083.20Z" fill="none" stroke="#00ff00" stroke-width="2.1"/>
<path d="M375.75,1038.40L382.75,1045.40L375.75,1052.40L368.75,1045.40Z" fill="none" stroke="#00ff00" stroke-width="2.1"/>
<path d="M408.31,1001.60L415.31,1008.60L408.31,1015.60L401.31,1008.60Z" fill="none" stroke="#00ff00" stroke-width="2.1"/>
<path d="M439.08,971.15L446.08,978.15L439.08,985.15L432.08,978.15Z" fill="none" stroke="#00ff00" stroke-width="2.1"/>
<path d="M476.01,947.70L483.01,954.70L476.01,961.70L469.01,954.70Z" fill="none" stroke="#00ff00" stroke-width="2.1"/>
<path d="M505.85,925.20L512.85,932.20L505.85,939.20L498.85,932.20Z" fill="none" stroke="#00ff00" stroke-width="2.1"/>
<path d="M541.75,901.50L548.75,908.50L541.75,915.50L534.75,908.50Z" fill="none" stroke="#00ff00" stroke-width="2.1"/>
<path d="M578.01,876.40L585.01,883.40L578.01,890.40L571.01,883.40Z" fill="none" stroke="#00ff00" stroke-width="2.1"/>
<path d="M608.51,863.00L615.51,870.00L608.51,877.00L601.51,870.00Z" fill="none" stroke="#00ff00" stroke-width="2.1"/>
<path d="M640.26,851.90L647.26,858.90L640.26,865.90L633.26,858.90Z" fill="none" stroke="#00ff00" stroke-width="2.1"/>
<path d="M674.26,843.00L681.26,850.00L674.26,857.00L667.26,850.00Z" fill="none" stroke="#00ff00" stroke-width="2.1"/>
<path d="M279.09,1089.30L286.49,1102.30L271.69,1102.30Z" fill="none" stroke="#0000ff" stroke-width="2.1" stroke-linejoin="miter"/>
<path d="M311.65,1069.90L319.05,1082.90L304.25,1082.90Z" fill="none" stroke="#0000ff" stroke-width="2.1" stroke-linejoin="miter"/>
<path d="M343.50,1038.90L350.90,1051.90L336.10,1051.90Z" fill="none" stroke="#0000ff" stroke-width="2.1" stroke-linejoin="miter"/>
<path d="M377.60,1004.50L385.00,1017.50L370.20,1017.50Z" fill="none" stroke="#0000ff" stroke-width="2.1" stroke-linejoin="miter"/>
<path d="M411.09,971.70L418.49,984.70L403.69,984.70Z" fill="none" stroke="#0000ff" stroke-width="2.1" stroke-linejoin="miter"/>
<path d="M443.44,953.80L450.84,966.80L436.04,966.80Z" fill="none" stroke="#0000ff" stroke-width="2.1" stroke-linejoin="miter"/>
<path d="M476.93,931.40L484.33,944.40L469.53,944.40Z" fill="none" stroke="#0000ff" stroke-width="2.1" stroke-linejoin="miter"/>
<path d="M505.85,903.25L513.25,916.25L498.45,916.25Z" fill="none" stroke="#0000ff" stroke-width="2.1" stroke-linejoin="miter"/>
<path d="M542.67,872.90L550.07,885.90L535.27,885.90Z" fill="none" stroke="#0000ff" stroke-width="2.1" stroke-linejoin="miter"/>
<path d="M576.98,854.40L584.38,867.40L569.58,867.40Z" fill="none" stroke="#0000ff" stroke-width="2.1" stroke-linejoin="miter"/>
<path d="M608.51,845.75L615.91,858.75L601.11,858.75Z" fill="none" stroke="#0000ff" stroke-width="2.1" stroke-linejoin="miter"/>
<path d="M641.28,831.00L648.68,844.00L633.88,844.00Z" fill="none" stroke="#0000ff" stroke-width="2.1" stroke-linejoin="miter"/>
<path d="M676.21,825.75L683.61,838.75L668.81,838.75Z" fill="none" stroke="#0000ff" stroke-width="2.1" stroke-linejoin="miter"/>
<rect x="80.92" y="683.00" width="729.08" height="510.00" fill="none" stroke="#000" stroke-width="2.4"/>
<path d="M147.20,1193.00V1172.00M147.20,683.00V704.00M213.48,1193.00V1186.00M213.48,683.00V690.00M279.76,1193.00V1172.00M279.76,683.00V704.00M346.04,1193.00V1186.00M346.04,683.00V690.00M412.32,1193.00V1172.00M412.32,683.00V704.00M478.60,1193.00V1186.00M478.60,683.00V690.00M544.88,1193.00V1172.00M544.88,683.00V704.00M611.16,1193.00V1186.00M611.16,683.00V690.00M677.44,1193.00V1172.00M677.44,683.00V704.00M743.72,1193.00V1186.00M743.72,683.00V690.00M80.92,1129.25H87.92M810.00,1129.25H803.00M80.92,1065.50H101.92M810.00,1065.50H789.00M80.92,1001.75H87.92M810.00,1001.75H803.00M80.92,938.00H101.92M810.00,938.00H789.00M80.92,874.25H87.92M810.00,874.25H803.00M80.92,810.50H101.92M810.00,810.50H789.00M80.92,746.75H87.92M810.00,746.75H803.00" fill="none" stroke="#000" stroke-width="2.4"/>
<text x="147.70" y="1222.80" text-anchor="middle" font-size="30" fill="#000">-0,6</text>
<text x="280.26" y="1222.80" text-anchor="middle" font-size="30" fill="#000">-0,4</text>
<text x="412.82" y="1222.80" text-anchor="middle" font-size="30" fill="#000">-0,2</text>
<text x="545.38" y="1222.80" text-anchor="middle" font-size="30" fill="#000">0</text>
<text x="677.94" y="1222.80" text-anchor="middle" font-size="30" fill="#000">0,2</text>
<text x="75.80" y="1203.20" text-anchor="end" font-size="29.5" fill="#000">0</text>
<text x="75.80" y="1075.70" text-anchor="end" font-size="29.5" fill="#000">1</text>
<text x="75.80" y="948.20" text-anchor="end" font-size="29.5" fill="#000">2</text>
<text x="75.80" y="820.70" text-anchor="end" font-size="29.5" fill="#000">3</text>
<text x="75.80" y="693.20" text-anchor="end" font-size="29.5" fill="#000">4</text>
<text x="380.5" y="1259.40" font-size="36.5" fill="#000">E</text>
<text x="405" y="1273.10" font-size="25" fill="#000">SHE</text>
<text x="466.5" y="1259.20" font-size="36" fill="#000">(V)</text>
<g transform="translate(43.6,1084.00) rotate(-90)" fill="#000"><text x="8.2" y="0" font-size="38" font-family='"Liberation Serif", serif'>Γ</text><text x="49.1" y="0" font-size="35">(</text><text x="61.1" y="0" font-size="35">10</text><text x="100.4" y="-21.5" font-size="24">-10</text><text x="146.6" y="0" font-size="35">mol/cm</text><text x="260.9" y="-21.4" font-size="24">2</text><text x="277" y="0" font-size="35">)</text></g>
<text x="750" y="723.4" font-size="35" fill="#000">(b)</text>
<rect x="817.8" y="792.3" width="202.2" height="301.6" fill="#fff" stroke="#000" stroke-width="2.4"/>
<text x="869.40" y="813.40" font-size="20.6" fill="#000">0.01 mM (exp)</text>
<text x="869.40" y="839.98" font-size="20.6" fill="#000">0.02 mM (exp)</text>
<text x="869.40" y="866.56" font-size="20.6" fill="#000">0.04 mM (exp)</text>
<text x="869.40" y="893.14" font-size="20.6" fill="#000">0.10 mM (exp)</text>
<text x="869.40" y="919.72" font-size="20.6" fill="#000">0.01 mM (sim)</text>
<text x="869.40" y="946.30" font-size="20.6" fill="#000">0.02 mM (sim)</text>
<text x="869.40" y="972.88" font-size="20.6" fill="#000">0.04 mM (sim)</text>
<text x="869.40" y="999.46" font-size="20.6" fill="#000">0.10 mM (sim)</text>
<text x="898.01" y="1026.04" font-size="20.6" fill="#000">1 mM (sim)</text>
<text x="886.57" y="1052.62" font-size="20.6" fill="#000">10 mM (sim)</text>
<text x="1009.8" y="1000" text-anchor="middle" font-size="19" fill="#000">*</text>
<circle cx="840.20" cy="809.40" r="7.1" fill="none" stroke="#000000" stroke-width="2.1"/>
<rect x="833.80" y="829.50" width="12.8" height="12.8" fill="none" stroke="#ff0000" stroke-width="2.1"/>
<path d="M840.20,855.15L847.55,862.50L840.20,869.85L832.85,862.50Z" fill="none" stroke="#00ff00" stroke-width="2.1"/>
<path d="M840.20,881.10L847.90,894.62L832.50,894.62Z" fill="none" stroke="#0000ff" stroke-width="2.1" stroke-linejoin="miter"/>
<path d="M825.6,916.00H854.8" stroke="#000000" stroke-width="2.45" stroke-dasharray="15.6,6.25"/>
<path d="M825.6,942.50H854.8" stroke="#ff0000" stroke-width="2.45" stroke-dasharray="3,5.75"/>
<path d="M825.6,969.40H854.8" stroke="#00ff00" stroke-width="2.45" stroke-dasharray="11.25,6.9"/>
<path d="M825.6,996.25H854.8" stroke="#0000ff" stroke-width="2.45"/>
<path d="M825.6,1022.50H854.8" stroke="#40e0d0" stroke-width="2.45" stroke-dasharray="3,5.5,11.25,5.5,3"/>
<path d="M825.6,1049.40H854.8" stroke="#bc8f8f" stroke-width="2.45" stroke-dasharray="3,5.5,15.6,20"/>
<path d="M825.6,1076.40H854.8" stroke="#bc8f8f" stroke-width="2.45"/>
<text x="869.8" y="1086.6" font-size="22" font-family='"Liberation Serif", serif' fill="#000">Γ</text><text x="881.5" y="1074.9" font-size="13" fill="#000">s</text>
</svg>
</body></html>
